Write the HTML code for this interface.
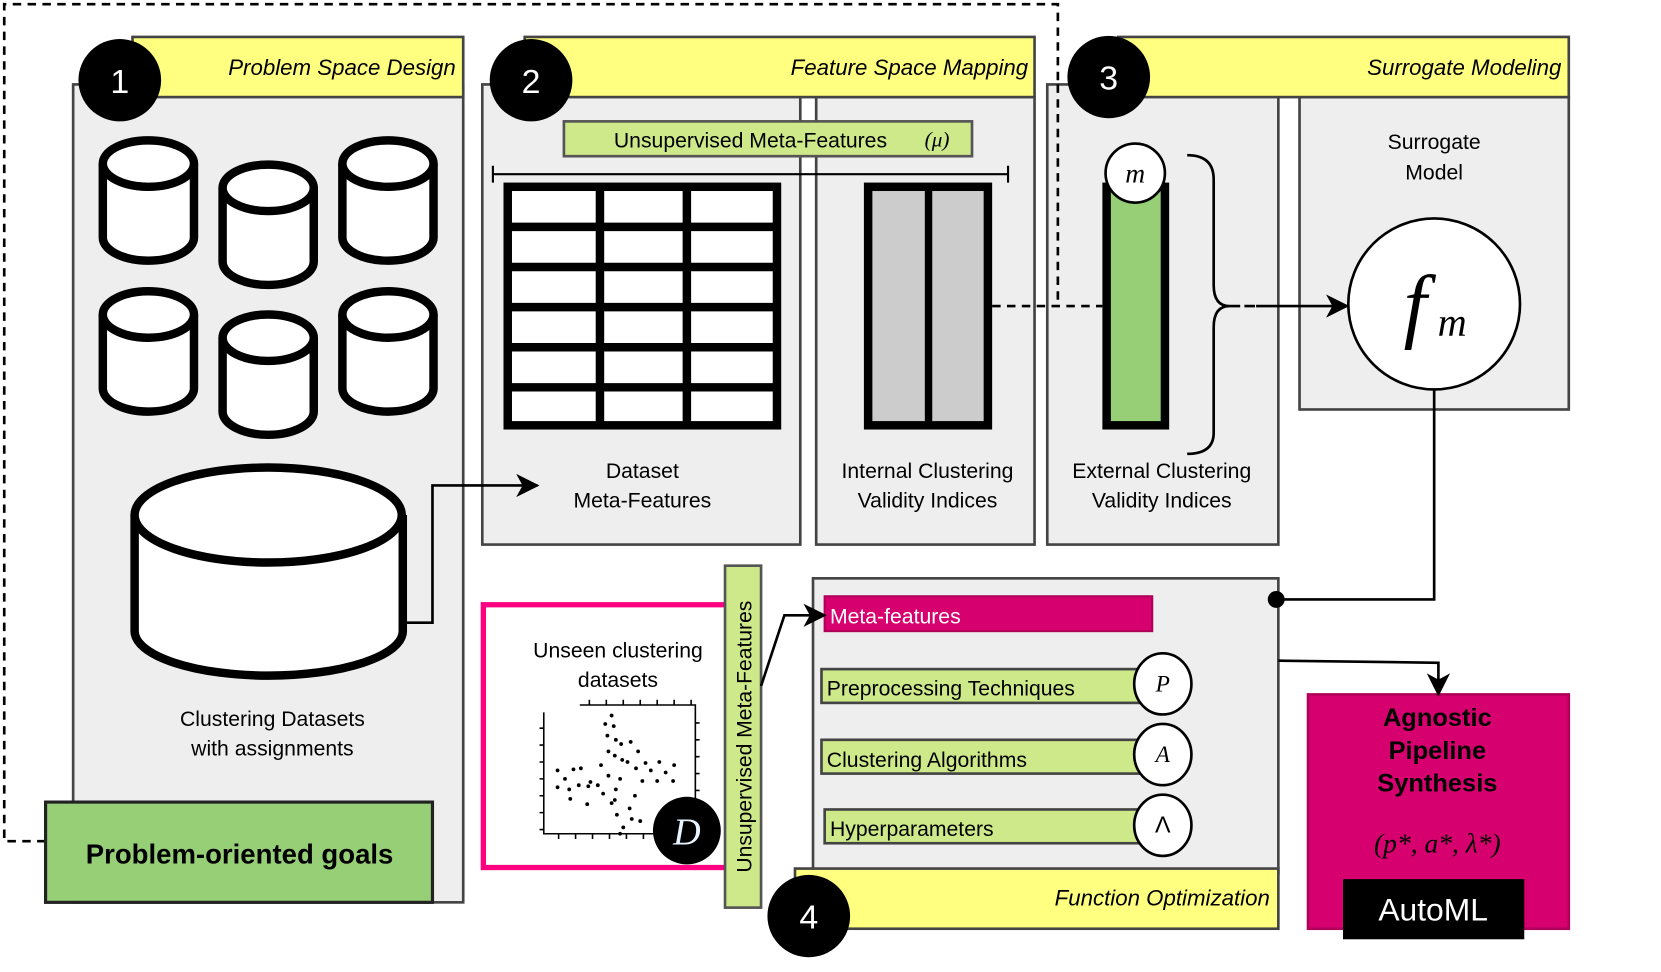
<!DOCTYPE html>
<html><head><meta charset="utf-8"><style>
html,body{margin:0;padding:0;background:#fff;}
svg{display:block;}
text{font-family:"Liberation Sans",sans-serif;}
.m{font-family:"Liberation Serif",serif;font-style:italic;}
</style></head><body>
<svg width="1661" height="972" viewBox="0 0 1567 921" preserveAspectRatio="none" xmlns="http://www.w3.org/2000/svg">
<defs>
<marker id="ah" markerWidth="22" markerHeight="22" refX="20" refY="11" orient="auto" markerUnits="userSpaceOnUse"><path d="M0,0 L22,11 L0,22 L6,11 z" fill="#000"/></marker>
</defs>
<!-- dashed loop -->
<path d="M43,797 H4 V4 H998 V290" fill="none" stroke="#000" stroke-width="2.5" stroke-dasharray="8,6"/>

<!-- Panel 1 -->
<rect x="69" y="80" width="368" height="775" fill="#eeeeee" stroke="#444" stroke-width="2.5"/>
<rect x="125" y="35" width="312" height="57" fill="#ffff80" stroke="#444" stroke-width="2.5"/>
<text x="430" y="71" font-size="21" font-style="italic" text-anchor="end">Problem Space Design</text>
<circle cx="113" cy="76" r="39" fill="#000"/>
<text x="113" y="88" font-size="32" fill="#fff" text-anchor="middle">1</text>

<g fill="#fff" stroke="#000" stroke-width="8">
<path d="M97,155 V225 A43,22 0 0 0 183,225 V155"/><ellipse cx="140" cy="155" rx="43" ry="22"/>
<path d="M210,178 V248 A43,22 0 0 0 296,248 V178"/><ellipse cx="253" cy="178" rx="43" ry="22"/>
<path d="M323,155 V225 A43,22 0 0 0 409,225 V155"/><ellipse cx="366" cy="155" rx="43" ry="22"/>
<path d="M97,298 V368 A43,22 0 0 0 183,368 V298"/><ellipse cx="140" cy="298" rx="43" ry="22"/>
<path d="M210,320 V390 A43,22 0 0 0 296,390 V320"/><ellipse cx="253" cy="320" rx="43" ry="22"/>
<path d="M323,298 V368 A43,22 0 0 0 409,368 V298"/><ellipse cx="366" cy="298" rx="43" ry="22"/>
<path d="M127,488 V598 A126,42 0 0 0 380,598 V488"/><ellipse cx="253" cy="488" rx="126" ry="45"/>
</g>
<text x="257" y="688" font-size="20" text-anchor="middle">Clustering Datasets</text>
<text x="257" y="716" font-size="20" text-anchor="middle">with assignments</text>
<rect x="43" y="760" width="365" height="95" fill="#97cf77" stroke="#222" stroke-width="3"/>
<text x="226" y="818" font-size="26" font-weight="bold" text-anchor="middle">Problem-oriented goals</text>

<!-- Panel 2 -->
<rect x="455" y="80" width="300" height="436" fill="#eeeeee" stroke="#444" stroke-width="2.5"/>
<rect x="770" y="92" width="206" height="424" fill="#eeeeee" stroke="#444" stroke-width="2.5"/>
<rect x="495" y="35" width="481" height="57" fill="#ffff80" stroke="#444" stroke-width="2.5"/>
<text x="970" y="71" font-size="21" font-style="italic" text-anchor="end">Feature Space Mapping</text>
<circle cx="501" cy="76" r="39" fill="#000"/>
<text x="501" y="88" font-size="32" fill="#fff" text-anchor="middle">2</text>
<rect x="532" y="115" width="385" height="33" fill="#cde98a" stroke="#555" stroke-width="2.5"/>
<text x="708" y="140" font-size="20" text-anchor="middle">Unsupervised Meta-Features</text>
<text x="884" y="139" font-size="20" text-anchor="middle" class="m">(μ)</text>
<path d="M465,165 H951 M465,157 V173 M951,157 V173" stroke="#000" stroke-width="2"/>
<rect x="479" y="177" width="254" height="226" fill="#fff" stroke="#000" stroke-width="8"/>
<path d="M566,177 V403 M648,177 V403 M479,215 H733 M479,253 H733 M479,291 H733 M479,329 H733 M479,367 H733" stroke="#000" stroke-width="8"/>
<rect x="819" y="177" width="113" height="226" fill="#cccccc" stroke="#000" stroke-width="8"/>
<path d="M876,177 V403" stroke="#000" stroke-width="7"/>
<text x="606" y="453" font-size="20" text-anchor="middle">Dataset</text>
<text x="606" y="481" font-size="20" text-anchor="middle">Meta-Features</text>
<text x="875" y="453" font-size="20" text-anchor="middle">Internal Clustering</text>
<text x="875" y="481" font-size="20" text-anchor="middle">Validity Indices</text>

<!-- Panel 3 -->
<rect x="988" y="80" width="218" height="436" fill="#eeeeee" stroke="#444" stroke-width="2.5"/>
<rect x="1226" y="92" width="254" height="296" fill="#eeeeee" stroke="#444" stroke-width="2.5"/>
<rect x="1055" y="35" width="425" height="57" fill="#ffff80" stroke="#444" stroke-width="2.5"/>
<text x="1473" y="71" font-size="21" font-style="italic" text-anchor="end">Surrogate Modeling</text>
<path d="M998,80 V290 M936,290 H1040" fill="none" stroke="#000" stroke-width="2.5" stroke-dasharray="8,6"/>
<circle cx="1046" cy="73" r="39" fill="#000"/>
<text x="1046" y="85" font-size="32" fill="#fff" text-anchor="middle">3</text>
<rect x="1044" y="177" width="55" height="226" fill="#97cf77" stroke="#000" stroke-width="8"/>
<circle cx="1071" cy="164" r="28" fill="#fff" stroke="#000" stroke-width="2.5"/>
<text x="1071" y="173" font-size="26" text-anchor="middle" class="m">m</text>
<path d="M1120,147 Q1145,147 1145,170 V270 Q1145,290 1160,290 Q1145,290 1145,310 V410 Q1145,430 1120,430" fill="none" stroke="#000" stroke-width="2.5"/>
<text x="1096" y="453" font-size="20" text-anchor="middle">External Clustering</text>
<text x="1096" y="481" font-size="20" text-anchor="middle">Validity Indices</text>
<text x="1353" y="141" font-size="20" text-anchor="middle">Surrogate</text>
<text x="1353" y="170" font-size="20" text-anchor="middle">Model</text>
<circle cx="1353" cy="288" r="81" fill="#fff" stroke="#000" stroke-width="2.5"/>
<text x="1335" y="315" font-size="78" text-anchor="middle" class="m">f</text>
<text x="1370" y="318" font-size="38" text-anchor="middle" class="m">m</text>
<path d="M1353,369 V568 H1204" fill="none" stroke="#000" stroke-width="2.5"/>

<!-- Unseen datasets -->
<rect x="456" y="573" width="230" height="249" fill="#fff" stroke="#ff0080" stroke-width="5"/>
<text x="583" y="623" font-size="20" text-anchor="middle">Unseen clustering</text>
<text x="583" y="651" font-size="20" text-anchor="middle">datasets</text>
<g stroke="#000" stroke-width="1.5" fill="none">
<path d="M513,675 V790 H650 M547,668 H656 V760"/>
<path d="M509,690 H513 M509,706 H513 M509,722 H513 M509,738 H513 M509,754 H513 M509,770 H513 M509,786 H513"/>
<path d="M527,790 V795 M543,790 V795 M559,790 V795 M575,790 V795 M591,790 V795 M607,790 V795"/>
<path d="M556,668 V663 M572,668 V663 M588,668 V663 M604,668 V663 M620,668 V663 M636,668 V663 M652,668 V663"/>
<path d="M656,685 H660 M656,701 H660 M656,717 H660 M656,733 H660 M656,749 H660"/>
</g>
<g fill="#000">
<circle cx="577" cy="678" r="1.8"/><circle cx="571" cy="686" r="1.8"/><circle cx="579" cy="688" r="1.8"/><circle cx="573" cy="697" r="1.8"/><circle cx="581" cy="701" r="1.8"/><circle cx="574" cy="712" r="1.8"/><circle cx="586" cy="705" r="1.8"/><circle cx="595" cy="703" r="1.8"/><circle cx="602" cy="712" r="1.8"/><circle cx="580" cy="716" r="1.8"/><circle cx="587" cy="720" r="1.8"/><circle cx="567" cy="725" r="1.8"/><circle cx="592" cy="722" r="1.8"/><circle cx="600" cy="728" r="1.8"/><circle cx="609" cy="723" r="1.8"/><circle cx="614" cy="730" r="1.8"/><circle cx="622" cy="722" r="1.8"/><circle cx="628" cy="732" r="1.8"/><circle cx="636" cy="725" r="1.8"/><circle cx="606" cy="740" r="1.8"/><circle cx="620" cy="740" r="1.8"/><circle cx="635" cy="740" r="1.8"/><circle cx="574" cy="735" r="1.8"/><circle cx="585" cy="738" r="1.8"/><circle cx="557" cy="741" r="1.8"/><circle cx="541" cy="729" r="1.8"/><circle cx="548" cy="728" r="1.8"/><circle cx="526" cy="730" r="1.8"/><circle cx="533" cy="738" r="1.8"/><circle cx="546" cy="744" r="1.8"/><circle cx="555" cy="745" r="1.8"/><circle cx="564" cy="744" r="1.8"/><circle cx="526" cy="746" r="1.8"/><circle cx="537" cy="748" r="1.8"/><circle cx="581" cy="748" r="1.8"/><circle cx="569" cy="752" r="1.8"/><circle cx="599" cy="754" r="1.8"/><circle cx="580" cy="758" r="1.8"/><circle cx="554" cy="762" r="1.8"/><circle cx="577" cy="761" r="1.8"/><circle cx="538" cy="757" r="1.8"/><circle cx="594" cy="766" r="1.8"/><circle cx="582" cy="772" r="1.8"/><circle cx="596" cy="776" r="1.8"/><circle cx="588" cy="784" r="1.8"/><circle cx="604" cy="778" r="1.8"/><circle cx="585" cy="790" r="1.8"/>
</g>
<circle cx="648" cy="787" r="32" fill="#000"/>
<text x="648" y="800" font-size="36" fill="#e6f4ff" text-anchor="middle" class="m">D</text>

<rect x="684" y="536" width="34" height="324" fill="#cde98a" stroke="#555" stroke-width="2.5"/>
<text transform="translate(709,698) rotate(-90)" font-size="20" text-anchor="middle">Unsupervised Meta-Features</text>

<!-- Panel 4 -->
<rect x="767" y="548" width="439" height="280" fill="#eeeeee" stroke="#444" stroke-width="2.5"/>
<rect x="750" y="823" width="456" height="57" fill="#ffff80" stroke="#444" stroke-width="2.5"/>
<text x="1198" y="858" font-size="21" font-style="italic" text-anchor="end">Function Optimization</text>
<circle cx="763" cy="868" r="39" fill="#000"/>
<text x="763" y="880" font-size="32" fill="#fff" text-anchor="middle">4</text>
<rect x="778" y="565" width="309" height="33" fill="#d6006e" stroke="#b0005a" stroke-width="2"/>
<text x="783" y="591" font-size="20" fill="#fff">Meta-features</text>
<rect x="775" y="634" width="305" height="32" fill="#cde98a" stroke="#444" stroke-width="2.5"/>
<text x="780" y="659" font-size="20">Preprocessing Techniques</text>
<rect x="775" y="701" width="305" height="32" fill="#cde98a" stroke="#444" stroke-width="2.5"/>
<text x="780" y="727" font-size="20">Clustering Algorithms</text>
<rect x="778" y="767" width="302" height="32" fill="#cde98a" stroke="#444" stroke-width="2.5"/>
<text x="783" y="792" font-size="20">Hyperparameters</text>
<g fill="#fff" stroke="#000" stroke-width="2.5">
<ellipse cx="1097" cy="648" rx="27" ry="29"/><ellipse cx="1097" cy="715" rx="27" ry="29"/><ellipse cx="1097" cy="782" rx="27" ry="29"/>
</g>
<text x="1097" y="655" font-size="22" text-anchor="middle" class="m">P</text>
<text x="1097" y="722" font-size="22" text-anchor="middle" class="m">A</text>
<text x="1097" y="789" font-size="22" text-anchor="middle" font-family="Liberation Serif">Λ</text>
<circle cx="1204" cy="568" r="8" fill="#000"/>

<!-- Agnostic -->
<rect x="1234" y="658" width="246" height="222" fill="#d6006e" stroke="#b0005a" stroke-width="2.5"/>
<text x="1356" y="688" font-size="24" font-weight="bold" text-anchor="middle">Agnostic</text>
<text x="1356" y="719" font-size="24" font-weight="bold" text-anchor="middle">Pipeline</text>
<text x="1356" y="750" font-size="24" font-weight="bold" text-anchor="middle">Synthesis</text>
<text x="1356" y="808" font-size="26" text-anchor="middle" class="m">(p*, a*, λ*)</text>
<rect x="1267" y="833" width="171" height="57" fill="#000"/>
<text x="1352" y="872" font-size="30" fill="#fff" text-anchor="middle">AutoML</text>

<!-- arrows on top -->
<path d="M382,590 H408 V460 H507" fill="none" stroke="#000" stroke-width="2.5" marker-end="url(#ah)"/>
<path d="M1160,290 H1185" stroke="#000" stroke-width="2.5" stroke-dasharray="10,4"/>
<path d="M1185,290 H1271" stroke="#000" stroke-width="2.5" marker-end="url(#ah)"/>
<path d="M718,650 L740,583 H778" fill="none" stroke="#000" stroke-width="2.5" marker-end="url(#ah)"/>
<path d="M1206,626 L1357,628 V658" fill="none" stroke="#000" stroke-width="2.5" marker-end="url(#ah)"/>
</svg>
</body></html>
